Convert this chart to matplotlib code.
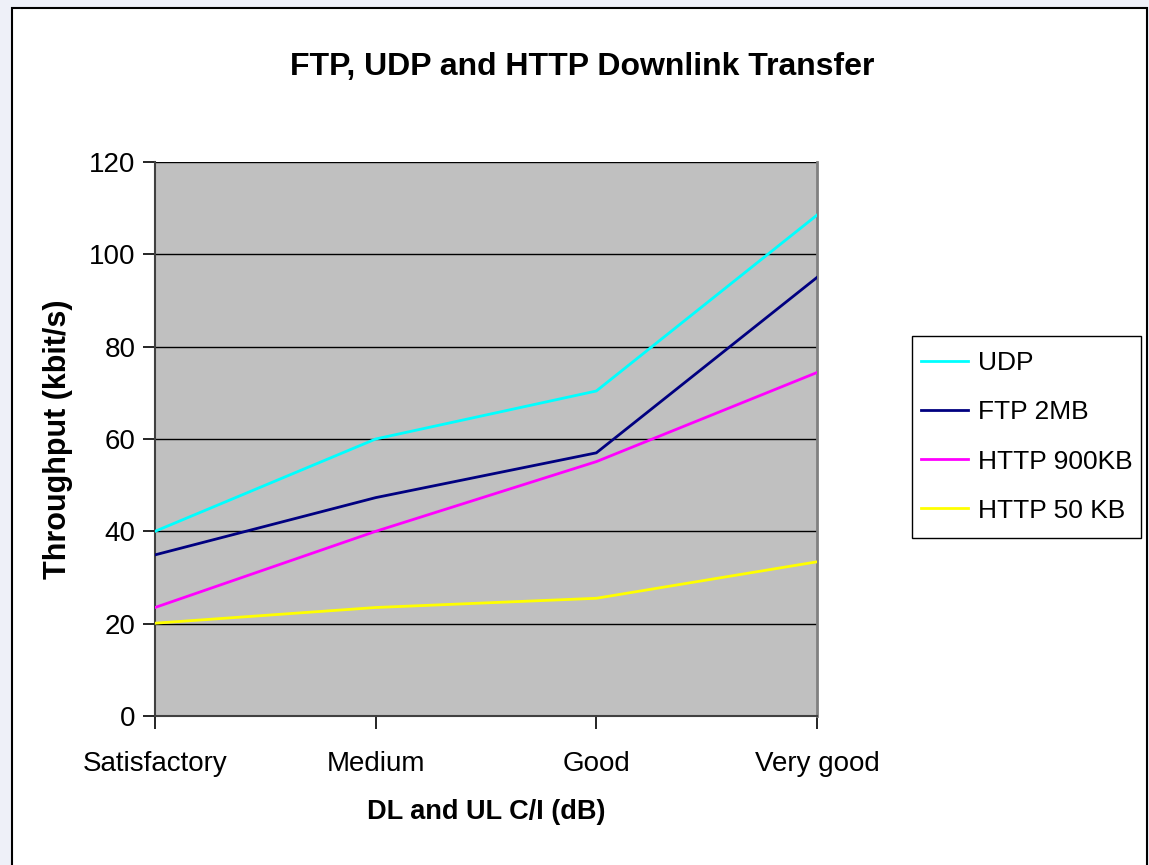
import matplotlib
matplotlib.use("Agg")
import matplotlib.pyplot as plt
from matplotlib.patches import Rectangle

categories = ["Satisfactory", "Medium", "Good", "Very good"]
udp = [40, 60, 70.4, 108.5]
ftp_2mb = [34.9, 47.3, 57.0, 95.0]
http_900kb = [23.5, 40, 55.1, 74.4]
http_50kb = [20.1, 23.5, 25.5, 33.4]

series = [
    ("UDP", udp, "#00FFFF"),
    ("FTP 2MB", ftp_2mb, "#000080"),
    ("HTTP 900KB", http_900kb, "#FF00FF"),
    ("HTTP 50 KB", http_50kb, "#FFFF00"),
]

plt.rcParams["font.family"] = ["Liberation Sans", "DejaVu Sans"]

W, H = 1149, 865
fig = plt.figure(figsize=(W / 100, H / 100), dpi=100)
fig.patch.set_facecolor("#EEF0F8")
# white chart area with thin black frame (behind the axes)
fig.patches.append(Rectangle((12 / W, -0.01), (1147 - 12) / W, 1 - 8 / H + 0.01,
                             transform=fig.transFigure, facecolor="white",
                             edgecolor="black", linewidth=1.5, zorder=-5))

ax = fig.add_axes([155 / W, 1 - 716 / H, (817 - 155) / W, (716 - 162) / H])
ax.set_facecolor("#C0C0C0")

x = list(range(len(categories)))
for name, vals, color in series:
    ax.plot(x, vals, color=color, linewidth=2, label=name, zorder=3)

ax.set_xlim(0, len(categories) - 1)
ax.set_ylim(0, 120)
ax.set_yticks(range(0, 121, 20))
ax.set_xticks(x)
ax.set_xticklabels(categories)
ax.grid(axis="y", color="black", linewidth=1)
ax.set_axisbelow(True)

ax.spines["top"].set_visible(False)
ax.spines["right"].set_color("#808080")
ax.spines["right"].set_linewidth(2)
ax.spines["left"].set_color("#404040")
ax.spines["bottom"].set_color("#404040")
ax.spines["left"].set_linewidth(1.5)
ax.spines["bottom"].set_linewidth(1.5)
ax.tick_params(axis="both", direction="out", length=9, width=1.2, labelsize=20, pad=5)
ax.tick_params(axis="x", pad=16)

fig.text(582 / W, 1 - 67 / H, "FTP, UDP and HTTP Downlink Transfer", fontsize=23,
         fontweight="bold", ha="center", va="center")
ax.set_xlabel("DL and UL C/I (dB)", fontsize=19.5, fontweight="bold", va="center")
ax.xaxis.set_label_coords(0.5, (716 - 812) / (716 - 162))
ax.set_ylabel("Throughput (kbit/s)", fontsize=22, fontweight="bold", va="center")
ax.yaxis.set_label_coords((58 - 155) / (817 - 155), 0.5)

# legend box drawn by hand so its size matches
lx0, ly0, lx1, ly1 = 912, 336, 1141, 538
fig.patches.append(Rectangle((lx0 / W, 1 - ly1 / H), (lx1 - lx0) / W, (ly1 - ly0) / H,
                             transform=fig.transFigure, facecolor="white",
                             edgecolor="black", linewidth=1, zorder=1))
handles, labels = ax.get_legend_handles_labels()
leg = fig.legend(handles, labels, loc="center left",
                 bbox_to_anchor=(lx0 / W, 1 - ly1 / H, (lx1 - lx0) / W, (ly1 - ly0) / H),
                 bbox_transform=fig.transFigure, fontsize=19, frameon=False,
                 handlelength=1.78, labelspacing=0.95, borderaxespad=0,
                 borderpad=0.34, handletextpad=0.38)
leg.set_zorder(5)
for line in leg.get_lines():
    line.set_linewidth(2)

fig.savefig("out.png", dpi=100)
